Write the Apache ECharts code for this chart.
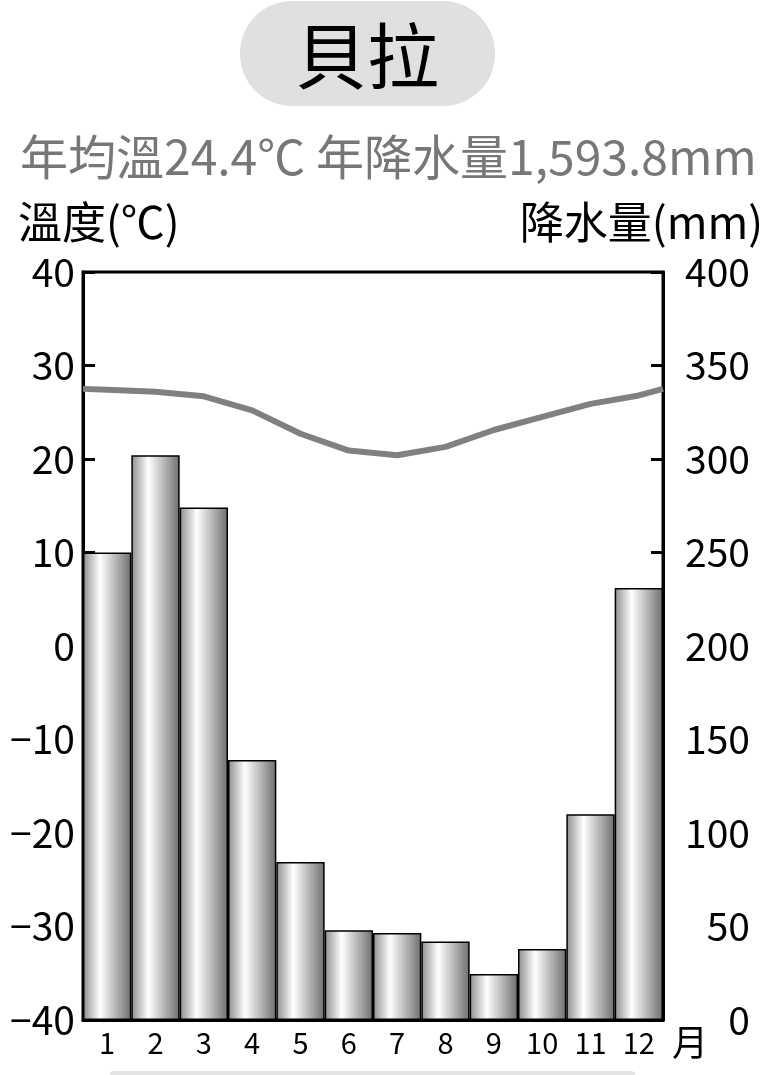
<!DOCTYPE html>
<html><head><meta charset="utf-8">
<script src="https://cdn.jsdelivr.net/npm/echarts@6/dist/echarts.min.js"></script>
<style>html,body{margin:0;padding:0;background:#fff}#c{width:766px;height:1075px}</style>
</head><body><div id="c"></div>
<script>
const months = ['1','2','3','4','5','6','7','8','9','10','11','12'];
const precip = [250, 302, 274, 139, 84.5, 48, 46.5, 42, 24.6, 38, 110, 231];
const temp = [27.4, 27.2, 26.7, 25.2, 22.7, 20.9, 20.4, 21.3, 23.1, 24.5, 25.9, 26.8];
const tempEdgeStart = 27.5;
const tempEdgeEnd = 27.5;
const tempTicks = [-40, 40, 10];
const precipTicks = [0, 400, 50];
const cityName = '貝拉';
const subtitle = '年均溫24.4℃ 年降水量1,593.8mm';

const FONT = '"Noto Sans CJK TC", "Noto Sans", sans-serif';
const chart = echarts.init(document.getElementById('c'), null, {renderer: 'canvas'});

const lineData = [[0, tempEdgeStart]]
  .concat(temp.map((t, i) => [i + 0.5, t]))
  .concat([[months.length, tempEdgeEnd]]);

chart.setOption({
  animation: false,
  backgroundColor: '#fff',
  grid: {left: 83, right: 103, top: 272, bottom: 55, show: true, borderColor: '#000', borderWidth: 3, backgroundColor: 'transparent'},
  xAxis: [
    {type: 'category', data: months, boundaryGap: true,
     axisLine: {show: true, onZero: false, lineStyle: {color: '#000', width: 3}},
     axisTick: {show: false},
     axisLabel: {color: '#000', fontSize: 29, fontFamily: FONT, margin: 8}},
    {type: 'value', min: 0, max: months.length, show: false}
  ],
  yAxis: [
    {type: 'value', min: tempTicks[0], max: tempTicks[1], interval: tempTicks[2], position: 'left',
     axisLine: {show: true, onZero: false, lineStyle: {color: '#000', width: 3}},
     axisTick: {show: true, inside: true, length: 12, lineStyle: {color: '#000', width: 3}},
     axisLabel: {color: '#000', fontSize: 39, fontFamily: FONT, margin: 8,
       formatter: v => (v < 0 ? '−' + Math.abs(v) : String(v))},
     splitLine: {show: false}},
    {type: 'value', min: precipTicks[0], max: precipTicks[1], interval: precipTicks[2], position: 'right',
     axisLine: {show: true, onZero: false, lineStyle: {color: '#000', width: 3}},
     axisTick: {show: true, inside: true, length: 12, lineStyle: {color: '#000', width: 3}},
     axisLabel: {color: '#000', fontSize: 39, fontFamily: FONT, margin: 87, align: 'right'},
     splitLine: {show: false}}
  ],
  series: [
    {type: 'bar', data: precip, xAxisIndex: 0, yAxisIndex: 1, barCategoryGap: '0%',
     itemStyle: {
       borderColor: '#000', borderWidth: 1.5,
       color: new echarts.graphic.LinearGradient(0, 0, 1, 0, [
         {offset: 0, color: '#8c8c8c'},
         {offset: 0.35, color: '#ffffff'},
         {offset: 1, color: '#6e6e6e'}
       ])
     }},
    {type: 'line', data: lineData, xAxisIndex: 1, yAxisIndex: 0, symbol: 'none', z: 5,
     lineStyle: {color: '#808080', width: 6}}
  ],
  graphic: [
    {type: 'rect', shape: {x: 240, y: 1, width: 255, height: 105, r: 52}, style: {fill: '#e0e0e0'}},
    {type: 'text', x: 367, y: 56, style: {text: cityName, fontSize: 72, fontFamily: FONT, fill: '#000', align: 'center', verticalAlign: 'middle'}},
    {type: 'text', x: 20, y: 157, style: {text: subtitle, fontSize: 48, fontFamily: FONT, fill: '#777', align: 'left', verticalAlign: 'middle'}},
    {type: 'text', x: 18, y: 222, style: {text: '溫度(℃)', fontSize: 44, fontFamily: FONT, fill: '#000', align: 'left', verticalAlign: 'middle'}},
    {type: 'text', x: 763, y: 222, style: {text: '降水量(mm)', fontSize: 44, fontFamily: FONT, fill: '#000', align: 'right', verticalAlign: 'middle'}},
    {type: 'text', x: 690, y: 1042, style: {text: '月', fontSize: 36, fontFamily: FONT, fill: '#000', align: 'center', verticalAlign: 'middle'}},
    {type: 'rect', shape: {x: 110, y: 1071, width: 525, height: 10, r: 4}, style: {fill: '#e3e3e3'}}
  ]
});
</script></body></html>
